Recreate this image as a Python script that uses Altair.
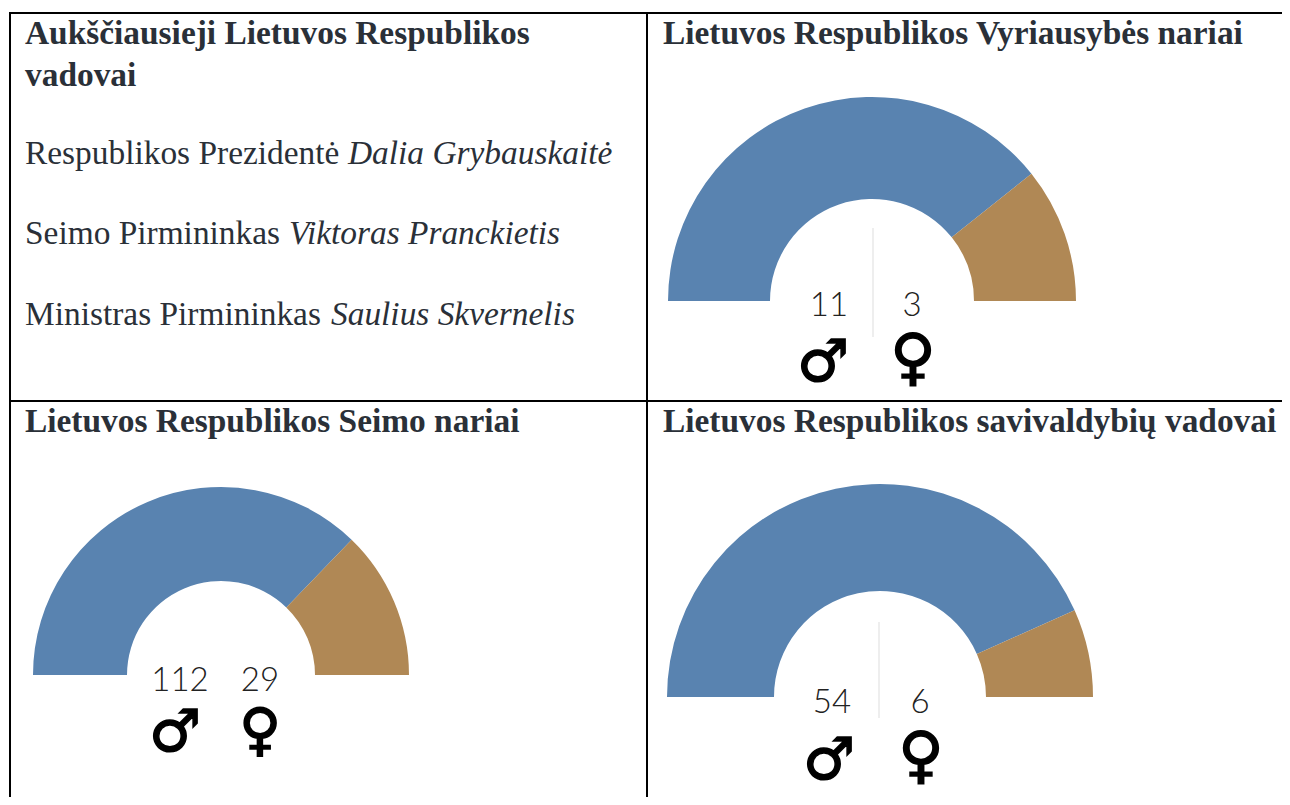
import math
import altair as alt
import pandas as pd

# Values
sexes = ["vyrai", "moterys"]
colors = ["#5983B0", "#B08855"]
arc_vyriausybe = [141.4, 38.6]
arc_seimas = [134, 46]
arc_savivaldybes = [156, 24]

H_FONT = "Liberation Serif"
OX, OY = 8, 8

headings = [
    ("Aukščiausieji Lietuvos Respublikos", 25, 44),
    ("vadovai", 25, 86),
    ("Lietuvos Respublikos Vyriausybės nariai", 663, 44),
    ("Lietuvos Respublikos Seimo nariai", 25, 432),
    ("Lietuvos Respublikos savivaldybių vadovai", 663, 432),
]
roles = [
    ("Respublikos Prezidentė", 25, 164),
    ("Seimo Pirmininkas", 25, 244),
    ("Ministras Pirmininkas", 25, 325),
]
names = [
    ("Dalia Grybauskaitė", 348, 164),
    ("Viktoras Pranckietis", 289, 244),
    ("Saulius Skvernelis", 331, 325),
]
counts = [
    ("11", 829, 316), ("3", 912, 316),
    ("112", 180, 691), ("29", 260, 691),
    ("54", 832, 713), ("6", 920, 713),
]
male_signs = [("♂", 823, 381), ("♂", 175, 751), ("♂", 829, 779)]
female_signs = [("♀", 913, 378), ("♀", 921, 776)]
female_signs_small = [("♀", 260, 749)]


def text_layer(rows, **mark):
    df = pd.DataFrame(rows, columns=["t", "x", "y"])
    df["x"] -= OX
    df["y"] -= OY
    return alt.Chart(df).mark_text(align=mark.pop("align", "left"), baseline="alphabetic", **mark).encode(
        x=alt.X("x:Q", scale=None, axis=None),
        y=alt.Y("y:Q", scale=None, axis=None),
        text="t:N",
    )


def donut(values, cx, cy, r_outer, r_inner):
    df = pd.DataFrame({"sex": sexes, "v": values, "o": [0, 1]})
    return alt.Chart(df).mark_arc(radius=r_outer, radius2=r_inner).encode(
        theta=alt.Theta("v:Q", stack=True,
                        scale=alt.Scale(domain=[0, 180], range=[-math.pi / 2, math.pi / 2])),
        order=alt.Order("o:Q"),
        color=alt.Color("sex:N", scale=alt.Scale(domain=sexes, range=colors), legend=None),
        x=alt.value(cx - OX),
        y=alt.value(cy - OY),
    )


def rule(x1, y1, x2, y2, color="#000000", width=2):
    return alt.Chart(pd.DataFrame({"a": [0]})).mark_rule(color=color, strokeWidth=width).encode(
        x=alt.value(x1 - OX), x2=alt.value(x2 - OX),
        y=alt.value(y1 - OY), y2=alt.value(y2 - OY),
    )


layers = [
    donut(arc_vyriausybe, 872, 301, 204, 102),
    donut(arc_seimas, 221, 675, 188, 94),
    donut(arc_savivaldybes, 880, 697, 213, 106),
    rule(10, 13, 1290, 13),
    rule(10, 401, 1290, 401),
    rule(10, 12, 10, 805),
    rule(647, 12, 647, 805),
    rule(873, 228, 873, 337, "#DDDDDD", 1),
    rule(879, 622, 879, 718, "#DDDDDD", 1),
    text_layer(headings, font=H_FONT, fontSize=33.4, fontWeight="bold", color="#2A3038"),
    text_layer(roles, font=H_FONT, fontSize=33.4, color="#2A3038"),
    text_layer(names, font=H_FONT, fontSize=33.4, fontStyle="italic", color="#2A3038"),
    text_layer(counts, font="Lato", fontSize=33, fontWeight=300, color="#222222", align="center"),
    text_layer(male_signs, font="DejaVu Sans", fontSize=58, color="#000000", stroke="#000000", strokeWidth=1.5, align="center"),
    text_layer(female_signs, font="DejaVu Sans", fontSize=62, color="#000000", stroke="#000000", strokeWidth=1.5, align="center"),
    text_layer(female_signs_small, font="DejaVu Sans", fontSize=57, color="#000000", stroke="#000000", strokeWidth=1.5, align="center"),
]

chart = alt.layer(*layers).properties(
    width=1274, height=789,
    padding=0,
    autosize=alt.AutoSizeParams(type="none"),
    background="#FFFFFF",
).configure_view(stroke=None)

chart.save("out.html", embed_options={"renderer": "svg", "actions": False})
